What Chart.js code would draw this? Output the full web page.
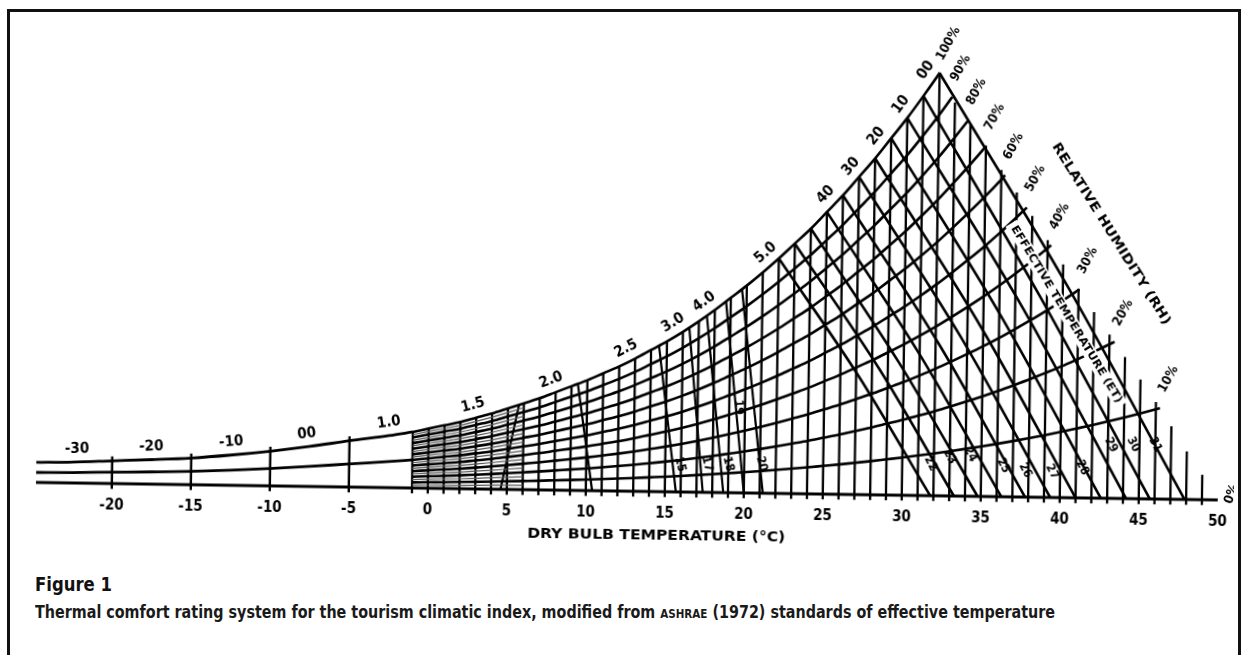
<!DOCTYPE html>
<html><head><meta charset="utf-8">
<script src="https://cdn.jsdelivr.net/npm/chart.js@4.4.1/dist/chart.umd.min.js"></script>
<style>
html,body{margin:0;padding:0;background:#fff;width:1248px;height:655px;overflow:hidden;}
#frame{position:absolute;left:7px;top:9px;width:1228px;height:700px;border:3px solid #111;border-bottom:none;}
#wrap{position:absolute;left:17px;top:0;width:1217px;height:560px;transform-origin:395px 488px;transform:rotate(0.85deg);}
.cap{position:absolute;left:35px;font-family:"Liberation Sans Narrow","DejaVu Sans Condensed","Liberation Sans",sans-serif;color:#111;white-space:nowrap;transform-origin:0 50%;}
#fig{top:573px;font-size:19px;font-weight:bold;}
#desc{top:601px;font-size:18px;font-weight:bold;color:#1a1a1a;}
</style></head><body>
<div id="frame"></div>
<div id="wrap"><canvas id="c" width="1217" height="560"></canvas></div>
<div class="cap" id="fig">Figure 1</div>
<div class="cap" id="desc">Thermal comfort rating system for the tourism climatic index, modified from <span style="font-size:13px">ASHRAE</span> (1972) standards of effective temperature</div>
<script>
const FONT = '"Liberation Sans Narrow","DejaVu Sans Condensed","Liberation Sans",sans-serif';

// ---- data ----
const xTicks = [-20,-15,-10,-5,0,5,10,15,20,25,30,35,40,45,50];

// compressed cold section (dry bulb °C, saturation height in vapour-pressure units)
const leftTemps = [-24.8,-22.5,-20,-17.5,-15,-12.5,-10,-7.5,-5,-2.5,-1];
const leftSat   = [2.25,2.35,2.55,2.75,3.0,3.4,3.9,4.5,5.2,5.85,6.3];
const leftVerticals = [-20,-15,-10,-5];

// saturation vapour pressure (100% RH curve), main section
const satTemps = [-1,0,1,2,3,4,5,6,7,8,9,10,11,12,13,14,15,16,17,18,19,20,21,22,23,24,25,26,27,28,29,30,31,32,33,34,35,36,37,38,39,40,41,42,43,44,45,46,47];
const satVP    = [6.3,6.7,7.1,7.5,8.0,8.5,9.1,9.7,10.3,11.0,11.7,12.4,13.2,14.0,14.9,15.9,16.9,18.0,19.2,20.5,21.9,23.3,24.8,26.4,28.1,29.8,31.7,33.6,35.7,37.8,40.1,42.4,44.9,47.5,50.3,53.2,56.2,59.4,62.8,66.3,70.0,73.8,77.9,82.1,86.5,91.1,95.9,100.9,106.1];

// upper envelope (tops of the dry-bulb lines beyond the saturation curve)
const envTemps = [32,33,34,35,36,37,38,39,40,41,42,43,44,45,46,47,48,49,50];
const envVP    = [47.6,44.2,41.8,39.4,36.7,34.2,31.6,28.9,26.2,23.5,20.9,18.4,15.9,13.4,10.9,8.2,5.4,2.8,0];

const rhLevels = [1.0,0.9,0.8,0.7,0.6,0.5,0.4,0.3,0.2,0.1];
const rhLabels = ['100%','90%','80%','70%','60%','50%','40%','30%','20%','10%'];
const denseLevels = [0.05,0.15,0.25,0.35,0.45,0.55,0.65,0.75,0.85,0.95];

// effective temperature lines
const etUpperTop    = [22,23,24,25,26,27,28,29,30,31,32];
const etUpperMid    = [27.2,28.5,29.7,31.0,32.3,33.6,34.9,36.2,37.5,38.6,40.3];
const etUpperBottom = [31.8,33.3,34.8,36.3,37.8,39.4,41.0,42.6,44.2,45.7,47.9];
const etLowerTop    = [5.7,9.4,14.5,16.4,17.5,18.7,19.7];
const etLowerBottom = [4.6,10.4,15.7,17.4,18.7,20.0,21.2];

const curveLabelText = ['-30','-20','-10','00','1.0','1.5','2.0','2.5','3.0','4.0','5.0','40','30','20','10','00'];
const curveLabelT    = [-22.2,-17.5,-12.4,-7.6,-2.4,3.0,8.0,12.8,15.8,17.8,21.7,25.5,27.1,28.7,30.25,31.8];

const etLabelText  = ['22','23','24','25','26','27','28','29','30','31'];
const etLowerLabelText = ['15','17','18','20','19'];

// label placement (data coordinates) – layout only
const etLabelPos = [[31.8,3.6],[33.0,4.4],[34.3,4.7],[36.4,3.5],[37.8,3.0],[39.5,2.9],[41.4,3.4],[43.2,6.0],[44.6,6.1],[46.0,6.1]];
const etLowerLabelPos = [[15.95,3.1],[17.66,3.2],[19.0,3.2],[21.1,3.3],[19.6,9.6]];

// ---- helpers ----
function interp(xs, ys, x){
  if (x <= xs[0]) return ys[0];
  for (let i=1;i<xs.length;i++){
    if (x <= xs[i]){ const f=(x-xs[i-1])/(xs[i]-xs[i-1]); return ys[i-1]+f*(ys[i]-ys[i-1]); }
  }
  return ys[ys.length-1];
}
const sat = t => t <= -1 ? interp(leftTemps,leftSat,t) : interp(satTemps,satVP,t);
const env = t => interp(envTemps,envVP,t);
const topAt = t => t <= 32 ? sat(t) : env(t);

function rhCurve(r){
  const pts=[]; let last=-1;
  for (const t of satTemps){
    if (t>=32 && r*sat(t) > env(t)) break;
    pts.push({x:t,y:r*sat(t)}); last=t;
  }
  let tEnd=last;
  for (let t=last; t<=last+1.001; t+=0.01){ if (r*sat(t) >= env(t)) { tEnd=t; break; } tEnd=t; }
  if (tEnd>last) pts.push({x:tEnd,y:r*sat(tEnd)});
  return pts;
}

const INK = '#000';
const LW = 2.6;
const ds = (pts, w=LW, color=INK, smooth=false) => ({data:pts, borderColor:color, borderWidth:w, pointRadius:0, pointHoverRadius:0, fill:false, tension:0, cubicInterpolationMode: smooth?'monotone':'default', borderCapStyle:'butt'});

const datasets = [];
// cold section: 100%, 50%, 0%
datasets.push(ds(leftTemps.map((t,i)=>({x:t,y:leftSat[i]})),2.8,INK,true));
datasets.push(ds(leftTemps.map((t,i)=>({x:t,y:leftSat[i]*0.5})),2.8,INK,true));
datasets.push(ds([{x:leftTemps[0],y:0},{x:-1,y:0}],2.8));
leftVerticals.forEach(t=>datasets.push(ds([{x:t,y:-0.6},{x:t,y:sat(t)+0.5}],2.4)));
// dense fine lines near freezing
denseLevels.forEach(r=>datasets.push(ds(satTemps.filter(t=>t<=6).map(t=>({x:t,y:r*sat(t)})),1.2,'#555')));
// RH curves
const rhEnds = [];
rhLevels.forEach(r=>{ const p=rhCurve(r); rhEnds.push(p[p.length-1]); datasets.push(ds(p,LW,INK,true)); });
datasets.push(ds([{x:-1,y:0},{x:50,y:0}],3));
// dry bulb verticals
for (let t=-1; t<=49; t++) datasets.push(ds([{x:t,y:-0.6},{x:t,y:topAt(t)}],2.3));
// ET lines
etUpperTop.forEach((e,i)=>datasets.push(ds([{x:e,y:sat(e)},{x:etUpperMid[i],y:sat(e)/2},{x:etUpperBottom[i],y:0}],LW,INK,true)));
etLowerTop.forEach((e,i)=>datasets.push(ds([{x:Math.min(e,etLowerBottom[i]),y:e<etLowerBottom[i]?sat(e):0},{x:Math.max(e,etLowerBottom[i]),y:e<etLowerBottom[i]?0:sat(e)}],2.2)));

const textPlugin = {
  id:'texts',
  afterDatasetsDraw(chart){
    const ctx=chart.ctx, xs=chart.scales.x, ys=chart.scales.y;
    const P=(t,v)=>[xs.getPixelForValue(t), ys.getPixelForValue(v)];
    function txt(s,px,py,ang,size,targetW,bg){
      ctx.save(); ctx.translate(px,py); ctx.rotate(ang*Math.PI/180);
      ctx.font='bold '+size+'px '+FONT; ctx.fillStyle=INK; ctx.textAlign='center'; ctx.textBaseline='middle';
      const w=ctx.measureText(s).width;
      if (bg){ ctx.fillStyle='#fff'; const bw=(targetW||w)+8; ctx.fillRect(-bw/2,-size*0.62,bw,size*1.24); ctx.fillStyle=INK; }
      if (targetW){ ctx.scale(targetW/w,1); }
      ctx.fillText(s,0,0); ctx.restore();
    }
    curveLabelText.forEach((s,i)=>{
      const t=curveLabelT[i];
      const [x1,y1]=P(t-0.4,sat(t-0.4)), [x2,y2]=P(t+0.4,sat(t+0.4));
      const th=Math.atan2(y2-y1,x2-x1);
      const [cx,cy]=P(t,sat(t));
      txt(s,cx+Math.sin(th)*13,cy-Math.cos(th)*13,th*180/Math.PI,15);
    });
    rhEnds.forEach((p,i)=>{ const [cx,cy]=P(p.x,p.y); txt(rhLabels[i],cx+8,cy-29,-62,13); });
    { const [cx,cy]=P(50,0); txt('0%',cx+14,cy-6,-70,13); }
    { const [cx,cy]=P(43.0,29.7); txt('RELATIVE HUMIDITY (RH)',cx,cy,57,13,212); }
    { const [cx,cy]=P(40.25,20.6); txt('EFFECTIVE TEMPERATURE (ET)',cx,cy,58,11,205,true); }
    etLabelText.forEach((s,i)=>{ const [cx,cy]=P(etLabelPos[i][0],etLabelPos[i][1]); txt(s,cx,cy,62,12); });
    etLowerLabelText.forEach((s,i)=>{ const [cx,cy]=P(etLowerLabelPos[i][0],etLowerLabelPos[i][1]); txt(s,cx,cy,i===4?85:75,12); });
    { const [cx,cy]=P(14.5,-5.0); txt('DRY BULB TEMPERATURE (°C)',cx,cy,0,14,258); }
  }
};

new Chart(document.getElementById('c'),{
  type:'line',
  data:{datasets},
  options:{
    responsive:false, animation:false, devicePixelRatio:1,
    layout:{padding:0},
    plugins:{legend:{display:false},tooltip:{enabled:false}},
    events:[],
    scales:{
      x:{type:'linear',min:-26,max:51.025,
         grid:{display:false,drawTicks:false}, border:{display:false},
         afterBuildTicks:a=>{a.ticks=xTicks.map(v=>({value:v}));},
         afterFit:a=>{a.height=65;},
         ticks:{padding:6,color:INK,font:{family:FONT,size:15,weight:'bold'},maxRotation:0,autoSkip:false,callback:v=>String(v)}},
      y:{type:'linear',display:false,min:-0.787,max:54.83}
    }
  },
  plugins:[textPlugin]
});

function fit(id,w){ const el=document.getElementById(id); const cw=el.getBoundingClientRect().width; el.style.transform='scaleX('+(w/cw)+')'; }
fit('fig',77); fit('desc',1020);
</script>
</body></html>
